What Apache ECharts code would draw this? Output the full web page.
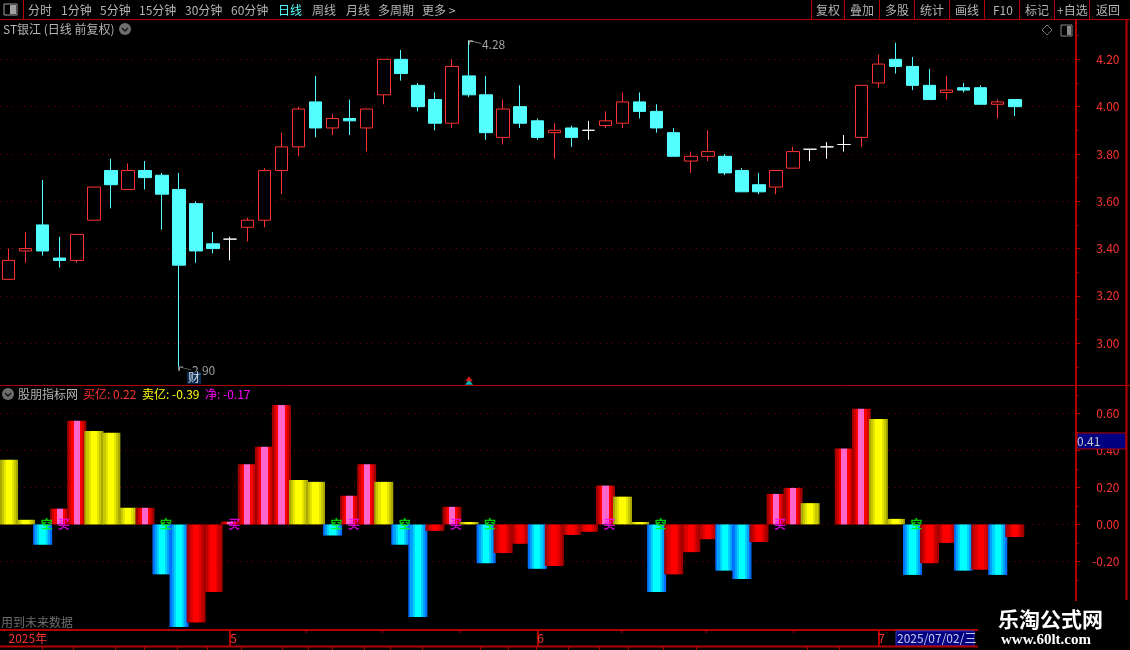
<!DOCTYPE html>
<html><head><meta charset="utf-8">
<style>html,body{margin:0;padding:0;background:#000}#c{width:1130px;height:650px}</style>
<script src="https://cdn.jsdelivr.net/npm/echarts@6/dist/echarts.min.js"></script>
</head><body><div id="c"></div>
<script>
// ---------- data ----------
const dates = ['04-11','04-14','04-15','04-16','04-17','04-18','04-21','04-22','04-23','04-24','04-25','04-28','04-29','05-06','05-07','05-08','05-09','05-12','05-13','05-14','05-15','05-16','05-19','05-20','05-21','05-22','05-23','05-26','05-27','05-28','05-29','06-03','06-04','06-05','06-06','06-09','06-10','06-11','06-12','06-13','06-16','06-17','06-18','06-19','06-20','06-23','06-24','06-25','06-26','06-27','06-30','07-01','07-02','07-03','07-04','07-07','07-08','07-09','07-10','07-11','','',''];
const openPrices  = [3.27,3.39,3.50,3.36,3.35,3.52,3.73,3.65,3.73,3.71,3.65,3.59,3.42,3.44,3.49,3.52,3.73,3.83,4.02,3.91,3.95,3.91,4.05,4.20,4.09,4.03,3.93,4.13,4.05,3.87,4.00,3.94,3.89,3.91,3.90,3.92,3.93,4.02,3.98,3.89,3.77,3.79,3.79,3.73,3.67,3.66,3.74,3.82,3.83,3.84,3.87,4.10,4.20,4.17,4.09,4.06,4.08,4.08,4.01,4.03];
const closePrices = [3.35,3.40,3.39,3.35,3.46,3.66,3.67,3.73,3.70,3.63,3.33,3.39,3.40,3.44,3.52,3.73,3.83,3.99,3.91,3.95,3.94,3.99,4.20,4.14,4.00,3.93,4.17,4.05,3.89,3.99,3.93,3.87,3.90,3.87,3.90,3.94,4.02,3.98,3.91,3.79,3.79,3.81,3.72,3.64,3.64,3.73,3.81,3.82,3.83,3.84,4.09,4.18,4.17,4.09,4.03,4.07,4.07,4.01,4.02,4.00];
const highPrices  = [3.40,3.47,3.69,3.45,3.46,3.66,3.78,3.76,3.77,3.72,3.72,3.60,3.47,3.45,3.53,3.74,3.89,4.00,4.13,3.97,4.03,3.99,4.20,4.24,4.10,4.06,4.20,4.28,4.13,4.03,4.09,3.95,3.93,3.92,3.94,3.98,4.06,4.06,4.01,3.91,3.81,3.90,3.80,3.74,3.72,3.73,3.83,3.82,3.85,3.88,4.09,4.22,4.27,4.21,4.16,4.13,4.10,4.09,4.03,4.03];
const lowPrices   = [3.27,3.34,3.37,3.32,3.34,3.52,3.57,3.65,3.65,3.48,2.90,3.34,3.38,3.35,3.43,3.49,3.63,3.79,3.87,3.88,3.88,3.81,4.01,4.11,3.98,3.90,3.91,4.04,3.86,3.84,3.91,3.86,3.78,3.83,3.86,3.91,3.91,3.95,3.89,3.79,3.72,3.77,3.71,3.64,3.63,3.63,3.74,3.77,3.78,3.81,3.83,4.08,4.14,4.07,4.03,4.03,4.06,4.01,3.95,3.96];
const flowValues = [0.35,0.025,-0.11,0.085,0.56,0.505,0.495,0.09,0.09,-0.27,-0.555,-0.53,-0.365,0.015,0.325,0.42,0.645,0.24,0.23,-0.06,0.155,0.325,0.23,-0.11,-0.50,-0.035,0.095,0.013,-0.21,-0.155,-0.105,-0.24,-0.225,-0.057,-0.04,0.21,0.15,0.013,-0.365,-0.27,-0.15,-0.08,-0.25,-0.295,-0.095,0.165,0.197,0.115,0,0.41,0.625,0.57,0.03,-0.273,-0.21,-0.10,-0.25,-0.245,-0.273,-0.068];
// P pink-red, Y yellow, B blue, R red
const flowKinds = 'YYBPPYYYPBBRRPPPPYYBPPYBBRPYBRRBRRRPYYBRRRBBRPPYYPPYYBRRBRBR'.split('');
const kongDays = [2,9,19,23,28,38,53];
const maiDays = [3,13,20,26,35,45];
const priceTicks = [3.0,3.2,3.4,3.6,3.8,4.0,4.2];
const priceMinorTicks = [2.9,3.1,3.3,3.5,3.7,3.9,4.1,4.3];
const flowTicks = [-0.2,0,0.2,0.4,0.6];
const flowMinorTicks = [-0.5,-0.3,-0.1,0.1,0.3,0.5,0.7];
const monthTicks = {0:'2025年',13:'5',31:'6',51:'7'};
const weekTicks = [17.44,21.9,26.4,35.9,40.9,46];
const periodButtons = [['分时',28],['1分钟',61],['5分钟',100],['15分钟',139],['30分钟',185],['60分钟',231],['日线',278],['周线',312],['月线',346],['多周期',378],['更多 >',422]];
const toolButtons = [['复权',816],['叠加',850],['多股',885],['统计',920],['画线',955],['F10',993],['标记',1025],['+自选',1057],['返回',1096]];
const toolSeparators = [811,844,879,914,949,984,1019,1054,1089];
const statusSeparators = [42,73,115,144,177,207,241,282,308,332,364,390,422,480,508,536,568,599,628,663,696,807,839];

// ---------- styling ----------
const FONT = '"Noto Sans CJK SC","Noto Sans",sans-serif';
const LINE = '#b40000', DOT = '#7a0000', LABEL = '#ff3232', GRAY = '#b4b4b4';
const bands = cols => {
  const n = cols.length, s = [];
  cols.forEach((c,i) => { s.push({offset:i/n,color:c}); s.push({offset:(i+1)/n,color:c}); });
  return new echarts.graphic.LinearGradient(0,0,1,0,s);
};
const fills = {
  Y: bands(['#a8a800','#c8c800','#e4e400','#ffff00','#ffff00','#ffff00','#e4e400','#c8c800','#a8a800']),
  P: bands(['#a00000','#d00000','#ff0000','#ff66cc','#ff66cc','#ff66cc','#ff0000','#d00000','#a00000']),
  R: bands(['#a00000','#c00000','#e00000','#ff0000','#ff0000','#ff0000','#e00000','#c00000','#a00000']),
  B: bands(['#0070ff','#00a0ff','#00d0ff','#00ffff','#00ffff','#00ffff','#00d0ff','#00a0ff','#0070ff'])
};
const dotted = {show:true,lineStyle:{color:DOT,width:1,type:[1,5]}};
const yBase = (min,max,extra) => Object.assign({type:'value',position:'right',offset:1,min,max,scale:true,splitNumber:1}, extra);
const PMIN = 2.8233, PMAX = 4.3663, FMIN = -0.5708, FMAX = 0.7481;

const option = {
  backgroundColor:'#000', animation:false,
  textStyle:{fontFamily:FONT},
  grid:[
    {left:-2.2,top:20,width:1076.7,height:365},
    {left:-2.2,top:386,width:1076.7,height:244}
  ],
  xAxis:[
    {type:'category',gridIndex:0,data:dates,show:false,boundaryGap:true},
    {type:'category',gridIndex:1,data:dates,boundaryGap:true,
     axisLine:{show:true,onZero:false,lineStyle:{color:LINE,width:2}},
     axisTick:{show:true,alignWithLabel:true,length:16,lineStyle:{color:LINE,width:2},interval:i=>i>0&&monthTicks[i]!==undefined},
     axisLabel:{show:true,interval:i=>monthTicks[i]!==undefined,formatter:(v,i)=>monthTicks[i]||'',align:'left',margin:2,color:LABEL,fontSize:12,fontFamily:FONT,hideOverlap:false},
     splitLine:{show:false}},
    {type:'value',gridIndex:1,min:-0.5,max:62.5,position:'bottom',
     axisLine:{show:false,onZero:false},axisLabel:{show:false},splitLine:{show:false},
     axisTick:{show:true,inside:false,length:3,customValues:weekTicks,lineStyle:{color:LINE}}}
  ],
  yAxis:[
    yBase(PMIN,PMAX,{gridIndex:0,
      axisLine:{show:true,onZero:false,lineStyle:{color:LINE,width:2}},
      axisTick:{show:true,length:5,customValues:priceTicks,lineStyle:{color:LINE}},
      axisLabel:{show:true,customValues:priceTicks,formatter:v=>v.toFixed(2),align:'right',margin:44,color:LABEL,fontSize:12,fontFamily:FONT},
      splitLine:Object.assign({customValues:priceTicks},dotted)}),
    yBase(PMIN,PMAX,{gridIndex:0,axisLine:{show:false,onZero:false},axisLabel:{show:false},splitLine:{show:false},
      axisTick:{show:true,length:3,customValues:priceMinorTicks,lineStyle:{color:LINE}}}),
    yBase(FMIN,FMAX,{gridIndex:1,
      axisLine:{show:true,onZero:false,lineStyle:{color:LINE,width:2}},
      axisTick:{show:true,length:5,customValues:flowTicks,lineStyle:{color:LINE}},
      axisLabel:{show:true,customValues:flowTicks,formatter:v=>v.toFixed(2),align:'right',margin:44,color:LABEL,fontSize:12,fontFamily:FONT},
      splitLine:Object.assign({customValues:flowTicks},dotted)}),
    yBase(FMIN,FMAX,{gridIndex:1,axisLine:{show:false,onZero:false},axisLabel:{show:false},splitLine:{show:false},
      axisTick:{show:true,length:3,customValues:flowMinorTicks,lineStyle:{color:LINE}}})
  ],
  series:[
    {type:'candlestick',name:'ST银江',xAxisIndex:0,yAxisIndex:0,barWidth:13,z:3,
     data:openPrices.map((o,i)=>[o,closePrices[i],lowPrices[i],highPrices[i]]),
     itemStyle:{color:'#000',color0:'#54ffff',borderColor:'#ff3232',borderColor0:'#54ffff',borderColorDoji:'#ffffff',borderWidth:1}},
    {type:'scatter',name:'high',xAxisIndex:0,yAxisIndex:0,z:6,silent:true,
     symbol:'path://M0 0L4 0M0 0L0 4M0 0L12 3',symbolSize:[12,4],symbolOffset:[6,2],
     itemStyle:{color:'transparent',borderColor:'#c8c8c8',borderWidth:1},
     label:{show:true,position:'right',distance:1,offset:[-1,2],formatter:p=>p.value[1].toFixed(2),color:'#c8c8c8',fontSize:12,fontFamily:FONT},
     data:[[27,highPrices[27]],[10,lowPrices[10]]]},
    {type:'scatter',name:'财',xAxisIndex:0,yAxisIndex:0,z:6,silent:true,symbolSize:1,itemStyle:{color:'transparent'},
     label:{show:true,position:'inside',offset:[15,11],formatter:'财',color:'#fff',fontSize:12,fontFamily:FONT,backgroundColor:'#0c3a66',padding:[0,1]},
     data:[[10,lowPrices[10]]]},
    {type:'scatter',name:'cyan mark',xAxisIndex:0,yAxisIndex:0,z:6,silent:true,symbol:'triangle',symbolSize:[8,5],itemStyle:{color:'#00e0e0'},data:[[27,2.835]]},
    {type:'scatter',name:'red mark',xAxisIndex:0,yAxisIndex:0,z:7,silent:true,symbol:'triangle',symbolSize:[8,5],itemStyle:{color:'#ff2020'},data:[[27,2.85]]},
    {type:'bar',name:'净',xAxisIndex:1,yAxisIndex:2,barWidth:19,z:3,
     data:flowValues.map((v,i)=>({value:v,itemStyle:{color:fills[flowKinds[i]]}}))},
    {type:'scatter',name:'空',xAxisIndex:1,yAxisIndex:2,z:6,silent:true,symbolSize:1,itemStyle:{color:'transparent'},
     label:{show:true,position:'inside',offset:[4,0],formatter:'空',color:'#00ff00',fontSize:12,fontWeight:'bold',fontFamily:FONT},
     data:kongDays.map(i=>[i,0])},
    {type:'scatter',name:'买',xAxisIndex:1,yAxisIndex:2,z:6,silent:true,symbolSize:1,itemStyle:{color:'transparent'},
     label:{show:true,position:'inside',offset:[4,0],formatter:'买',color:'#ff00ff',fontSize:12,fontWeight:'bold',fontFamily:FONT},
     data:maiDays.map(i=>[i,0])}
  ],
  graphic:{elements:[]}
};

// ---------- window chrome ----------
const G = option.graphic.elements;
const txt = (t,x,y,c,o={}) => G.push({type:'text',z:100,x,y,style:Object.assign({text:t,fill:c,font:'12px '+FONT,textVerticalAlign:'middle'},o)});
const ln = (x1,y1,x2,y2,c=LINE,w=1) => G.push({type:'line',z:99,shape:{x1,y1,x2,y2},style:{stroke:c,lineWidth:w}});
const rect = (x,y,w,h,f,s) => G.push({type:'rect',z:98,shape:{x,y,width:w,height:h},style:{fill:f,stroke:s||null}});
const chev = (x,y) => { G.push({type:'circle',z:100,shape:{cx:x,cy:y,r:6},style:{fill:'#6e6e6e'}});
  G.push({type:'polyline',z:101,shape:{points:[[x-3,y-1],[x,y+2],[x+3,y-1]]},style:{stroke:'#111',fill:null,lineWidth:1.4}}); };

ln(0,19.5,1130,19.5); ln(23.5,0,23.5,19); ln(0,385.5,1130,385.5);
rect(4,4,13,11,'#000','#a0a0a0'); rect(10,5,6,9,'#a0a0a0');
periodButtons.forEach(([t,x])=>txt(t,x,10,t==='日线'?'#54ffff':GRAY));
toolSeparators.forEach(x=>ln(x+.5,0,x+.5,19));
toolButtons.forEach(([t,x])=>txt(t,x,10,GRAY));

txt('ST银江 (日线 前复权)',3,29,GRAY);
chev(125,29);
G.push({type:'polygon',z:100,shape:{points:[[1047,25],[1052,30],[1047,35],[1042,30]]},style:{fill:null,stroke:'#777'}});
rect(1061,25,11,11,'#000','#888'); rect(1067,26,4,9,'#888');

chev(8,394);
txt('股朋指标网',18,394,GRAY);
txt('买亿:',83,394,'#ff3232'); txt('0.22',113,394,'#ff3232');
txt('卖亿:',142,394,'#ffff00'); txt('-0.39',172,394,'#ffff00');
txt('净:',205,394,'#ff00ff'); txt('-0.17',223,394,'#ff00ff');
txt('用到未来数据',1,622,'#6e6e6e');

ln(1126.5,20,1126.5,600,LINE,2);
rect(1077,433,49,16,'#000080',LINE);
txt('0.41',1077,441,'#c8c8c8');

// date bar
ln(0,646.5,978,646.5,LINE,2);
rect(896,631,78,15,'#000080','#3030c0');
txt('2025/07/02/三',897,638.5,'#c8c8f0');
statusSeparators.forEach(x=>ln(x+.5,647,x+.5,650));

// watermark plate
rect(978,601,152,49,'#000');
txt('乐淘公式网',998,619,'#ffffff',{font:'bold 21px '+FONT});
txt('www.60lt.com',1001,640,'#ffffff',{font:'bold 15px "Liberation Serif",serif'});

echarts.init(document.getElementById('c'),null,{renderer:'canvas'}).setOption(option);
</script></body></html>
